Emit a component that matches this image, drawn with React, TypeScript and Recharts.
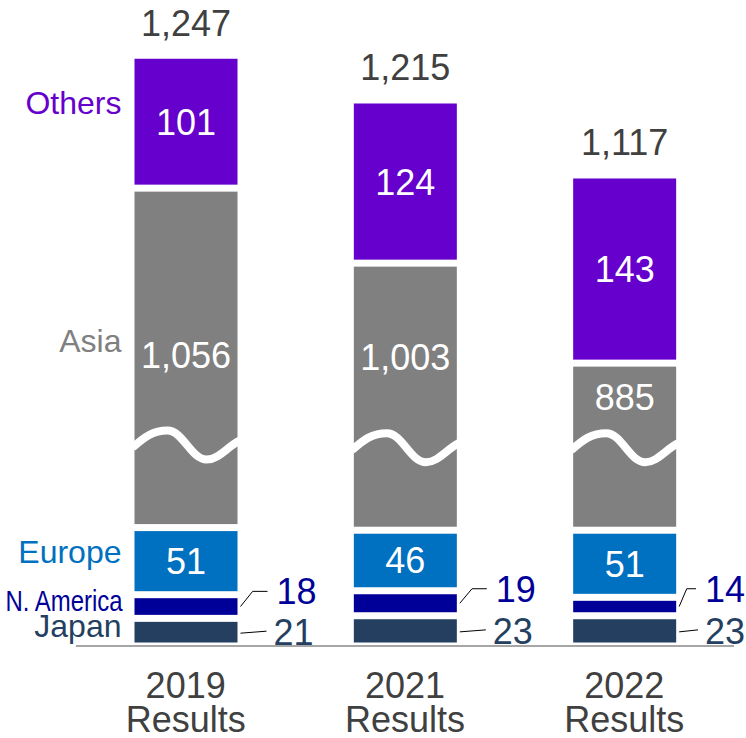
import React from "react";
import { BarChart, Bar, XAxis, YAxis, LabelList } from "recharts";

const years: string[] = ["2019", "2021", "2022"];
const japan: number[] = [21, 23, 23];
const northAmerica: number[] = [18, 19, 14];
const europe: number[] = [51, 46, 51];
const asia: number[] = [1056, 1003, 885];
// the part of Asia that is drawn above the axis break
const asiaShown: number[] = [258, 203, 127];
const others: number[] = [101, 124, 143];
const totals: number[] = [1247, 1215, 1117];

const FONT = '"Liberation Sans", Arial, sans-serif';
const GAP = 3.5;
const RIGHT_LIMIT = 705;

const colors = {
  japan: "#243F60",
  northAmerica: "#000099",
  europe: "#0070C0",
  asia: "#808080",
  others: "#6600CC",
  text: "#404040",
};

const data = years.map((year, i) => ({
  year,
  japan: japan[i],
  northAmerica: northAmerica[i],
  europe: europe[i],
  asiaShown: asiaShown[i],
  others: others[i],
}));

const fmt = (v: number) => v.toLocaleString("en-US");

const box = (p: any) => {
  const v = p.viewBox && p.viewBox.width != null ? p.viewBox : p;
  return { x: Number(v.x), y: Number(v.y), w: Number(v.width), h: Number(v.height) };
};

const InsetBar = (props: any) => {
  const { x, y, width, height, fill } = props;
  return (
    <rect
      x={x + GAP}
      y={y + GAP}
      width={Math.max(width - 2 * GAP, 0)}
      height={Math.max(height - 2 * GAP, 0)}
      fill={fill}
    />
  );
};

const AsiaBar = (props: any) => {
  const { x, y, width: w, height } = props;
  const yc = y + height - 83;
  const x0 = x + GAP;
  const bw = w - 2 * GAP;
  const wave = `M ${x0 - 2},${yc + 3}
    C ${x0 + 0.1 * bw},${yc - 8} ${x0 + 0.18 * bw},${yc - 14} ${x0 + 0.32 * bw},${yc - 14}
    C ${x0 + 0.47 * bw},${yc - 14} ${x0 + 0.55 * bw},${yc + 15} ${x0 + 0.7 * bw},${yc + 15}
    C ${x0 + 0.82 * bw},${yc + 15} ${x0 + 0.9 * bw},${yc + 2} ${x0 + bw + 2},${yc - 4}`;
  return (
    <g>
      <InsetBar {...props} />
      <path d={wave} fill="none" stroke="#FFFFFF" strokeWidth={8} />
    </g>
  );
};

// name of the series, drawn left of the first bar
const SeriesName = ({ x, y, text, color, narrow }: any) => (
  <text
    x={x}
    y={y}
    textAnchor="end"
    fontFamily={FONT}
    fontSize={narrow ? 29 : 32}
    fill={color}
    {...(narrow ? { textLength: 117, lengthAdjust: "spacingAndGlyphs" } : {})}
  >
    {text}
  </text>
);

const insideLabel = (name: string, color: string, nameDy: number, values: number[]) => (p: any) => {
  const { x, y, w, h } = box(p);
  const mid = y + h / 2;
  return (
    <g>
      <text x={x + w / 2} y={mid + 13} textAnchor="middle" fontFamily={FONT} fontSize={36} fill="#FFFFFF">
        {fmt(values[p.index])}
      </text>
      {p.index === 0 && <SeriesName x={x + GAP - 13} y={mid + nameDy} text={name} color={color} />}
    </g>
  );
};

const asiaLabel = (p: any) => {
  const { x, y, w, h } = box(p);
  const yc = y + h - 83;
  const center = Math.max(yc - 90, y + 33.5);
  const mid = y + h / 2;
  return (
    <g>
      <text x={x + w / 2} y={center + 13} textAnchor="middle" fontFamily={FONT} fontSize={36} fill="#FFFFFF">
        {fmt(asia[p.index])}
      </text>
      {p.index === 0 && <SeriesName x={x + GAP - 13} y={mid - 6} text="Asia" color={colors.asia} />}
    </g>
  );
};

const othersLabel = (p: any) => {
  const { x, y, w, h } = box(p);
  const mid = y + h / 2;
  return (
    <g>
      <text x={x + w / 2} y={mid + 13} textAnchor="middle" fontFamily={FONT} fontSize={36} fill="#FFFFFF">
        {fmt(others[p.index])}
      </text>
      <text x={x + w / 2} y={y - 19.5} textAnchor="middle" fontFamily={FONT} fontSize={36} fill={colors.text}>
        {fmt(totals[p.index])}
      </text>
      {p.index === 0 && <SeriesName x={x + GAP - 13} y={mid - 8} text="Others" color={colors.others} />}
    </g>
  );
};

const naLabel = (p: any) => {
  const { x, y, w, h } = box(p);
  const mid = y + h / 2;
  const right = x + w - GAP;
  const ly = y + h - 27;
  const tx = Math.min(right + 39, RIGHT_LIMIT);
  const end = tx - 9;
  const kink = right + 3 + (end - right - 3) * 0.45;
  return (
    <g>
      <polyline
        points={`${right + 3},${mid} ${kink},${ly} ${end},${ly}`}
        fill="none"
        stroke="#000000"
        strokeWidth={1}
      />
      <text x={tx} y={ly + 13} fontFamily={FONT} fontSize={36} fill={colors.northAmerica}>
        {northAmerica[p.index]}
      </text>
      {p.index === 0 && (
        <SeriesName x={x + GAP - 12} y={mid + 4} text="N. America" color={colors.northAmerica} narrow />
      )}
    </g>
  );
};

const japanLabel = (p: any) => {
  const { x, y, w, h } = box(p);
  const mid = y + h / 2;
  const right = x + w - GAP;
  const tx = Math.min(right + 36, RIGHT_LIMIT);
  return (
    <g>
      <line x1={right + 3} y1={mid + 1} x2={tx - 7} y2={mid - 1} stroke="#000000" strokeWidth={1} />
      <text x={tx} y={mid + 13} fontFamily={FONT} fontSize={36} fill={colors.japan}>
        {japan[p.index]}
      </text>
      {p.index === 0 && <SeriesName x={x + GAP - 13} y={mid + 5} text="Japan" color={colors.japan} />}
    </g>
  );
};

const YearTick = (props: any) => {
  const { x, y, payload } = props;
  return (
    <g>
      <text x={x} y={y + 52} textAnchor="middle" fontFamily={FONT} fontSize={36} fill={colors.text}>
        {payload.value}
      </text>
      <text x={x} y={y + 86} textAnchor="middle" fontFamily={FONT} fontSize={36} fill={colors.text}>
        Results
      </text>
    </g>
  );
};

const App: React.FC = () => {
  return (
    <div style={{ position: "absolute", left: 0, top: 0, background: "#FFFFFF" }}>
      <BarChart width={746} height={738} data={data} margin={{ top: 0, right: 12, left: 76, bottom: 0 }} barSize={110}>
        <XAxis
          dataKey="year"
          height={92}
          tickLine={false}
          tickSize={0}
          tickMargin={0}
          axisLine={{ stroke: "#A6A6A6", strokeWidth: 2 }}
          tick={<YearTick />}
          interval={0}
        />
        <YAxis hide width={0} domain={[0, 491]} />
        <Bar dataKey="japan" stackId="a" fill={colors.japan} shape={<InsetBar />} isAnimationActive={false}>
          <LabelList dataKey="japan" content={japanLabel} />
        </Bar>
        <Bar dataKey="northAmerica" stackId="a" fill={colors.northAmerica} shape={<InsetBar />} isAnimationActive={false}>
          <LabelList dataKey="northAmerica" content={naLabel} />
        </Bar>
        <Bar dataKey="europe" stackId="a" fill={colors.europe} shape={<InsetBar />} isAnimationActive={false}>
          <LabelList dataKey="europe" content={insideLabel("Europe", colors.europe, 2, europe)} />
        </Bar>
        <Bar dataKey="asiaShown" stackId="a" fill={colors.asia} shape={<AsiaBar />} isAnimationActive={false}>
          <LabelList dataKey="asiaShown" content={asiaLabel} />
        </Bar>
        <Bar dataKey="others" stackId="a" fill={colors.others} shape={<InsetBar />} isAnimationActive={false}>
          <LabelList dataKey="others" content={othersLabel} />
        </Bar>
      </BarChart>
    </div>
  );
};

export default App;
